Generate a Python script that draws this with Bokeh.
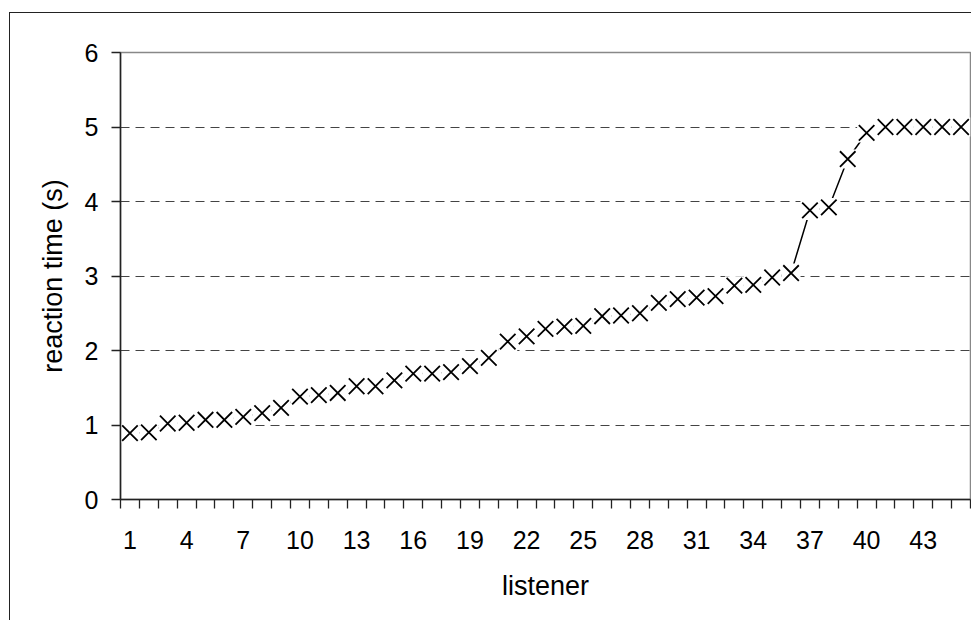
from bokeh.plotting import figure
from bokeh.models import FixedTicker, Range1d, ColumnDataSource
from bokeh.embed import file_html
from bokeh.resources import INLINE

listeners = list(range(1, 46))
reaction_time = [0.89, 0.90, 1.02, 1.03, 1.07, 1.07, 1.11, 1.16, 1.23, 1.38,
                 1.40, 1.43, 1.52, 1.52, 1.60, 1.69, 1.69, 1.71, 1.79, 1.90,
                 2.12, 2.19, 2.29, 2.32, 2.33, 2.46, 2.47, 2.50, 2.64, 2.69,
                 2.71, 2.73, 2.87, 2.88, 2.98, 3.04, 3.88, 3.92, 4.57, 4.92,
                 5.00, 5.00, 5.00, 5.00, 5.00]
x_tick_labels = [1, 4, 7, 10, 13, 16, 19, 22, 25, 28, 31, 34, 37, 40, 43]
y_ticks = [0, 1, 2, 3, 4, 5, 6]
y_grid_dashed = [1, 2, 3, 4, 5]

src = ColumnDataSource(dict(x=listeners, y=reaction_time))

# canvas offset by the chart-area border (left ~9.5px, top ~12.5px)
p = figure(width=962, height=608, output_backend="svg", toolbar_location=None,
           x_range=Range1d(0.5, 45.5), y_range=Range1d(0, 6),
           min_border_left=110, min_border_top=39, min_border_right=2,
           min_border_bottom=122)
p.styles = {"margin-left": "9px", "margin-top": "12px",
            "border-left": "1.5px solid #222222",
            "border-top": "1.5px solid #222222"}

p.line("x", "y", source=src, line_color="black", line_width=1.5)
p.scatter("x", "y", source=src, marker="square", size=19, fill_color="white",
          line_color=None)
p.scatter("x", "y", source=src, marker="x", size=22, line_color="black", line_width=1.8)

FONT = "Liberation Sans"

# x axis: labels at category centres, tick marks at category boundaries
p.xaxis.ticker = FixedTicker(ticks=x_tick_labels,
                             minor_ticks=[i + 0.5 for i in range(0, 46)])
p.xaxis.major_tick_out = 0
p.xaxis.major_tick_in = 0
p.xaxis.minor_tick_out = 9
p.xaxis.minor_tick_in = 0
p.xaxis.minor_tick_line_color = "#222222"
p.xaxis.minor_tick_line_width = 1.3
p.xaxis.major_label_standoff = 22
p.xaxis.axis_label = "listener"
p.xaxis.axis_label_standoff = 19

p.yaxis.ticker = FixedTicker(ticks=y_ticks)
p.yaxis.major_tick_out = 9
p.yaxis.major_tick_in = 0
p.yaxis.minor_tick_out = 0
p.yaxis.minor_tick_in = 0
p.yaxis.major_tick_line_color = "#222222"
p.yaxis.major_tick_line_width = 1.3
p.yaxis.major_label_standoff = 13
p.yaxis.axis_label = "reaction time (s)"
p.yaxis.axis_label_standoff = 14

for ax in (p.xaxis, p.yaxis):
    ax.axis_line_color = "#222222"
    ax.axis_line_width = 1.5
    ax.major_label_text_font = FONT
    ax.major_label_text_font_size = "25px"
    ax.major_label_text_color = "black"
    ax.axis_label_text_font = FONT
    ax.axis_label_text_font_size = "27px"
    ax.axis_label_text_font_style = "normal"
    ax.axis_label_text_color = "black"

p.xgrid.visible = False
p.ygrid.ticker = FixedTicker(ticks=y_grid_dashed)
p.ygrid.grid_line_color = "#444444"
p.ygrid.grid_line_width = 1
p.ygrid.grid_line_dash = "9 6"

p.outline_line_color = "#888888"
p.outline_line_width = 1.5

p.background_fill_color = "white"
p.border_fill_color = "white"

open("out.html", "w").write(file_html(p, INLINE))
